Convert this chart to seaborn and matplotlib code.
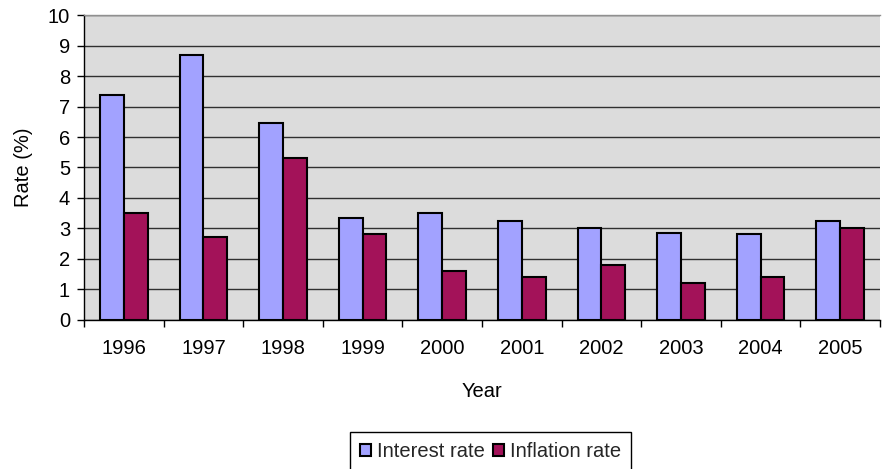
import matplotlib
matplotlib.use("Agg")
import matplotlib.pyplot as plt
from matplotlib.patches import Patch
from matplotlib.ticker import FixedLocator
import seaborn as sns
import pandas as pd

years = ["1996", "1997", "1998", "1999", "2000", "2001", "2002", "2003", "2004", "2005"]
interest_rate = [7.4, 8.7, 6.45, 3.35, 3.5, 3.25, 3.0, 2.85, 2.8, 3.25]
inflation_rate = [3.5, 2.7, 5.3, 2.8, 1.6, 1.4, 1.8, 1.2, 1.4, 3.0]
series_names = ["Interest rate", "Inflation rate"]
colors = ["#A2A2FF", "#A31259"]

df = pd.DataFrame({
    "Year": years * 2,
    "Rate": interest_rate + inflation_rate,
    "Series": [series_names[0]] * len(years) + [series_names[1]] * len(years),
})

sns.set_theme(style="white")
plt.rcParams["font.family"] = ["Liberation Sans", "DejaVu Sans"]
FS = 14.5

fig = plt.figure(figsize=(8.82, 4.69), dpi=100)
ax = fig.add_axes([84 / 882, 1 - 319.5 / 469, 796 / 882, 304 / 469])
ax.set_facecolor("#DCDCDC")

sns.barplot(data=df, x="Year", y="Rate", hue="Series", order=years,
            hue_order=series_names, palette=colors, width=0.6, gap=0,
            edgecolor="black", linewidth=1.5, saturation=1, ax=ax,
            legend=False, zorder=3)

ax.set_xlim(-0.5, len(years) - 0.5)
ax.set_ylim(0, 10)
ax.set_yticks(range(0, 11))
ax.yaxis.grid(True, color="#303030", linewidth=1.0, zorder=1)
ax.xaxis.grid(False)
ax.set_axisbelow(True)

ax.spines["right"].set_visible(False)
ax.spines["top"].set_color("#909090")
ax.spines["top"].set_linewidth(1.0)
for side in ["left", "bottom"]:
    ax.spines[side].set_color("black")
    ax.spines[side].set_linewidth(1.0)

ax.tick_params(axis="y", which="major", left=True, length=5, width=1,
               color="black", labelsize=FS, pad=5, labelcolor="black")
ax.tick_params(axis="x", which="major", bottom=False, length=0,
               labelsize=FS, pad=14, labelcolor="black")
ax.xaxis.set_minor_locator(FixedLocator([i - 0.5 for i in range(len(years) + 1)]))
ax.tick_params(axis="x", which="minor", bottom=True, length=5, width=1, color="black")

ax.set_xlabel("Year", fontsize=FS, labelpad=17, color="black")
ax.set_ylabel("Rate (%)", fontsize=FS, labelpad=10.5, color="black")

handles = [Patch(facecolor=c, edgecolor="black", linewidth=1.5) for c in colors]
fig.legend(handles, series_names, loc="upper center",
           bbox_to_anchor=(490.5 / 882, 1 - 432 / 469), ncol=2,
           fontsize=FS, frameon=True, fancybox=False, edgecolor="black",
           handlelength=0.55, handleheight=0.55, handletextpad=0.3,
           columnspacing=0.4, borderpad=0.5, borderaxespad=0,
           framealpha=1)

fig.savefig("out.png", dpi=100)
